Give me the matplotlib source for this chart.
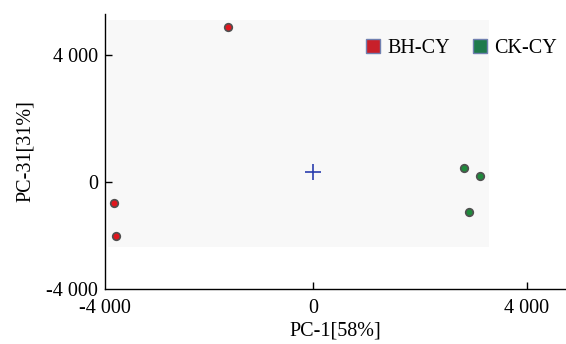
import matplotlib.pyplot as plt
from matplotlib.patches import Rectangle
from matplotlib.lines import Line2D

plt.rcParams['font.family'] = ['Liberation Serif', 'DejaVu Serif']

# PCA scores
bh_x = [-1590, -3720, -3680]
bh_y = [4880, -660, -1700]
ck_x = [2820, 3120, 2920]
ck_y = [440, 190, -950]
center = (0, 320)

fig = plt.figure(figsize=(5.66, 3.44), dpi=100)
ax = fig.add_axes([105 / 566, 1 - 289 / 344, (566 - 105) / 566, (289 - 14) / 344])

xmin, xmax = -3890, 4730
ymin, ymax = -3370, 5290
ax.set_xlim(xmin, xmax)
ax.set_ylim(ymin, ymax)

# light shaded plot region
ax.add_patch(Rectangle((-3830, -2050), 3290 + 3830, 5100 + 2050,
                       facecolor='#f8f8f8', edgecolor='none', zorder=0))

ax.scatter(bh_x, bh_y, s=30, color='#e0161e', edgecolors='#505050', linewidths=1.2, zorder=3)
ax.scatter(ck_x, ck_y, s=30, color='#1f8a3c', edgecolors='#505050', linewidths=1.2, zorder=3)
ax.plot(*center, marker='+', color='#2b3fae', markersize=11, mew=1.2, zorder=3)

for s in ['top', 'right']:
    ax.spines[s].set_visible(False)
for s in ['left', 'bottom']:
    ax.spines[s].set_linewidth(1.0)

ax.set_xticks([xmin, 0, 4000])
ax.set_xticklabels(['-4 000', '0', '4 000'])
ax.set_yticks([ymin, 0, 4000])
ax.set_yticklabels(['-4 000', '0', '4 000'])
ax.tick_params(direction='in', length=5, width=1, labelsize=14.5)
ax.tick_params(axis='x', pad=7)
ax.tick_params(axis='y', pad=5)
ax.get_xticklines()[0].set_visible(False)
ax.get_yticklines()[0].set_visible(False)

ax.set_xlabel('PC-1[58%]', fontsize=14.5, labelpad=3)
ax.set_ylabel('PC-31[31%]', fontsize=14.5, labelpad=8)

handles = [Line2D([], [], marker='s', linestyle='none', markersize=10,
                  markerfacecolor='#c8202a', markeredgecolor='#7080b0'),
           Line2D([], [], marker='s', linestyle='none', markersize=10,
                  markerfacecolor='#1f7a4c', markeredgecolor='#7080b0')]
ax.legend(handles, ['BH-CY', 'CK-CY'], ncol=2, frameon=False, fontsize=14.5,
          loc='upper right', bbox_to_anchor=(1.02, 0.975), handletextpad=0.2,
          columnspacing=1.0, handlelength=1.0)

fig.savefig('out.png', dpi=100)
